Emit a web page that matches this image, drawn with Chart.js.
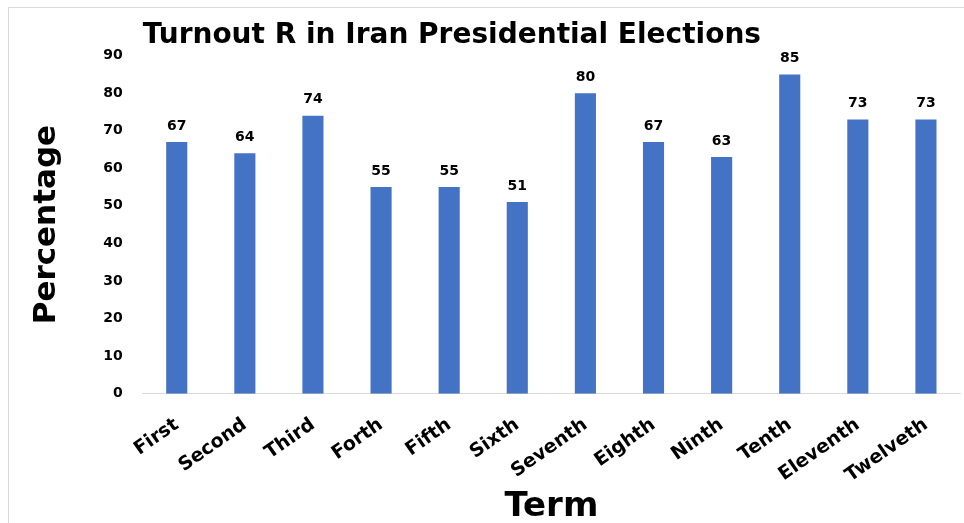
<!DOCTYPE html>
<html>
<head>
<meta charset="utf-8">
<script src="https://cdn.jsdelivr.net/npm/chart.js@4.4.1/dist/chart.umd.min.js"></script>
<style>
  html, body { margin: 0; padding: 0; background: #fff; }
  #frame { position: absolute; left: 8px; top: 7px; width: 1000px; height: 1000px; border: 1px solid #d9d9d9; }
  #wrap { position: absolute; left: 0; top: 0; width: 964px; height: 523px; }
</style>
</head>
<body>
<div id="frame"></div>
<div id="wrap"><canvas id="turnoutChart"></canvas></div>
<script>
// turnout per presidential term
const terms = ["First", "Second", "Third", "Forth", "Fifth", "Sixth", "Seventh", "Eighth", "Ninth", "Tenth", "Eleventh", "Twelveth"];
const turnout = [67, 64, 74, 55, 55, 51, 80, 67, 63, 85, 73, 73];
const yTicks = [0, 10, 20, 30, 40, 50, 60, 70, 80, 90];

const boldFont = (size) => ({ family: "'DejaVu Sans', sans-serif", size: size, weight: "bold" });

// value labels above bars
const barValues = {
  id: "barValues",
  afterDatasetsDraw(chart) {
    const ctx = chart.ctx;
    const meta = chart.getDatasetMeta(0);
    ctx.save();
    ctx.font = "bold 14px 'DejaVu Sans', sans-serif";
    ctx.fillStyle = "#000";
    ctx.textAlign = "center";
    ctx.textBaseline = "bottom";
    meta.data.forEach((bar, i) => {
      ctx.fillText(turnout[i], bar.x, bar.y - 9);
    });
    ctx.restore();
  },
};

const ctx = document.getElementById("turnoutChart").getContext("2d");
new Chart(ctx, {
  type: "bar",
  data: {
    labels: terms,
    datasets: [{
      label: "Turnout",
      data: turnout,
      backgroundColor: "#4472C4",
      barPercentage: 0.31,
      categoryPercentage: 1,
    }],
  },
  options: {
    responsive: true,
    maintainAspectRatio: false,
    animation: false,
    layout: { padding: { left: 16, right: 4, top: 19, bottom: 0 } },
    plugins: {
      legend: { display: false },
      tooltip: { enabled: false },
      title: {
        display: true,
        text: "Turnout R in Iran Presidential Elections",
        align: "start",
        fullSize: false,
        color: "#000",
        font: boldFont(28),
        padding: { top: 0, bottom: 3 },
      },
    },
    scales: {
      x: {
        grid: { display: false, drawTicks: false },
        border: { display: true, color: "#d9d9d9", width: 1 },
        ticks: {
          color: "#000",
          font: boldFont(19),
          maxRotation: 35,
          minRotation: 35,
          padding: 20,
        },
        title: {
          display: true,
          text: "Term",
          color: "#000",
          font: boldFont(34),
          padding: { top: -20, bottom: -5 },
        },
      },
      y: {
        min: 0,
        max: 90,
        afterBuildTicks(axis) {
          axis.ticks = yTicks.map(v => ({ value: v }));
        },
        grid: { display: false, drawTicks: false },
        border: { display: false },
        ticks: {
          color: "#000",
          font: boldFont(14),
          padding: 20,
        },
        title: {
          display: true,
          text: "Percentage",
          color: "#000",
          font: boldFont(31),
          padding: { top: 12, bottom: 18 },
        },
      },
    },
  },
  plugins: [barValues],
});
</script>
</body>
</html>
